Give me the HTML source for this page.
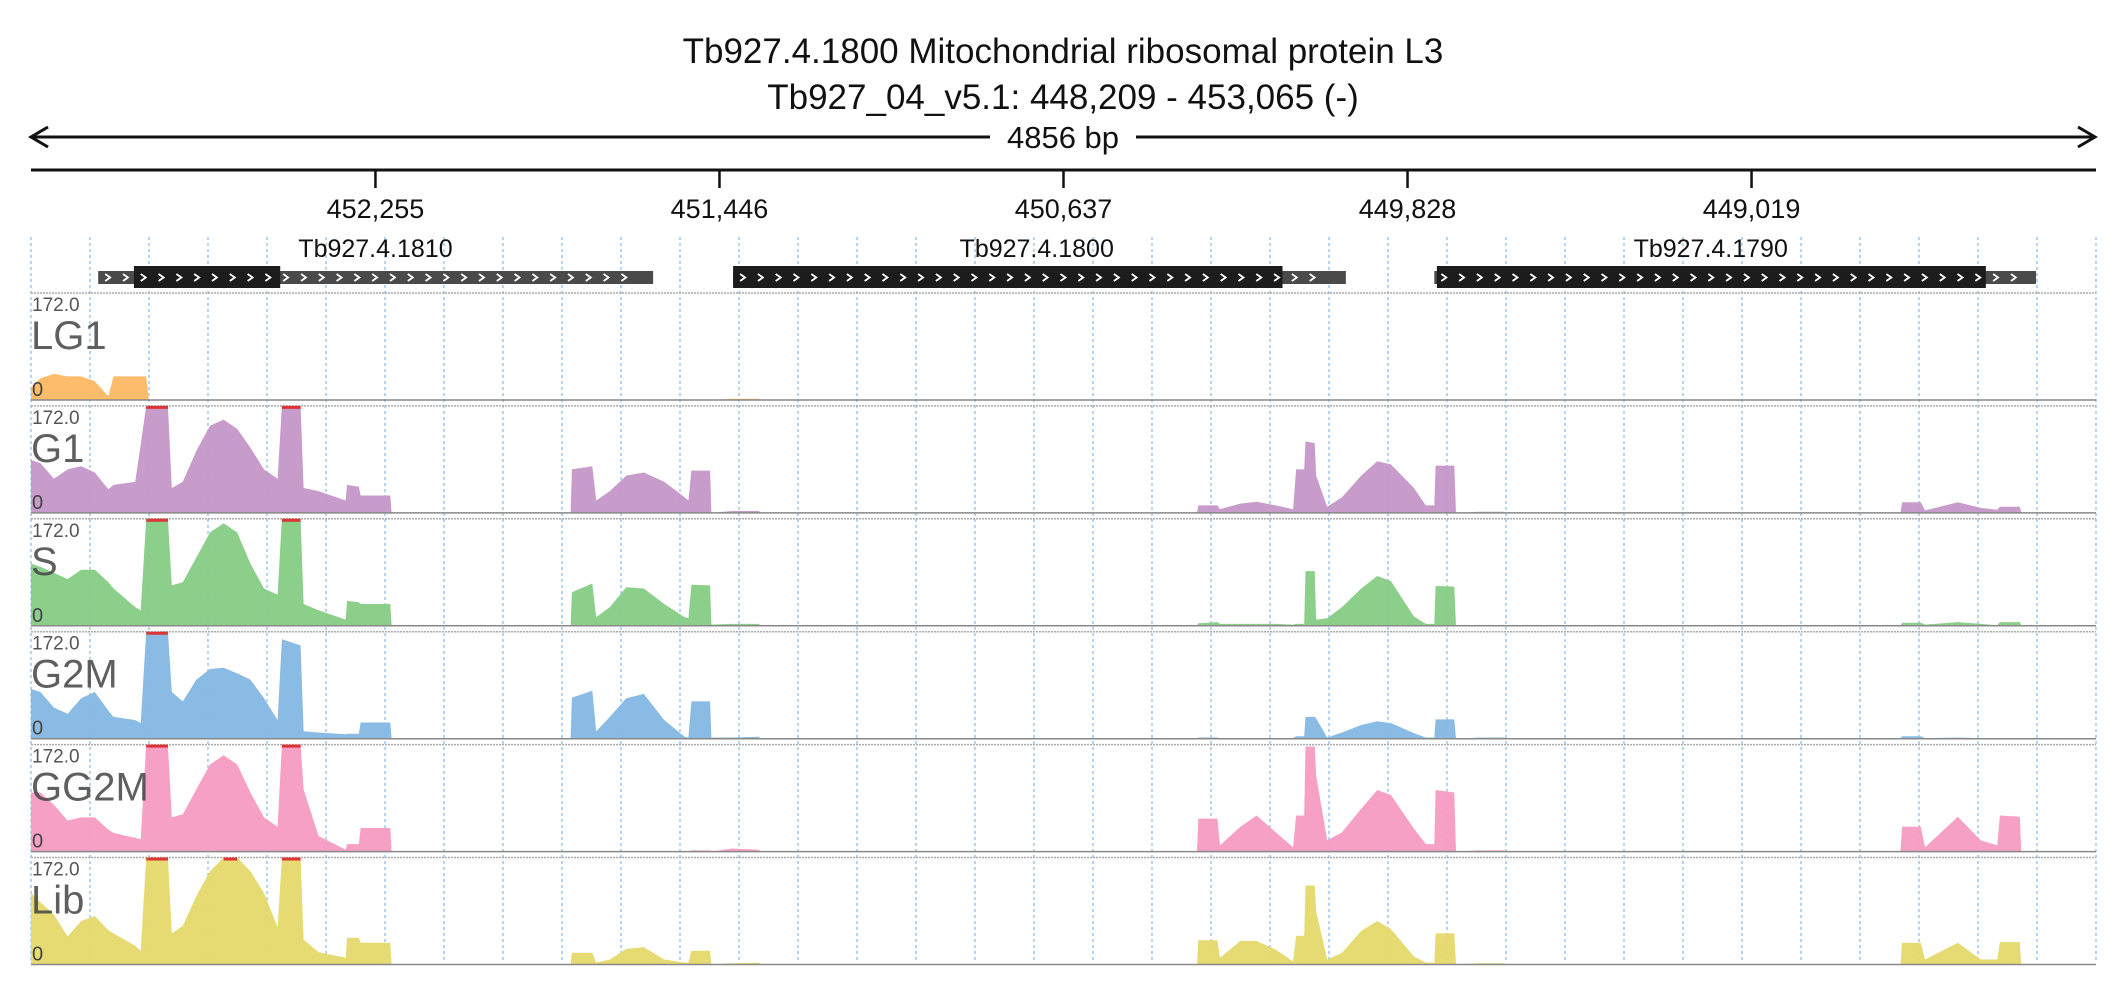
<!DOCTYPE html>
<html><head><meta charset="utf-8"><style>
body{margin:0;background:#fff;}
svg{display:block;font-family:"Liberation Sans",sans-serif;}
</style></head><body>
<svg id="c" width="2126" height="1000"></svg>
<script>
// ---- data ----
const regionStart = 453065, regionEnd = 448209, regionLen = 4856;
const tickOffsets = [810, 1619, 2428, 3237, 4046];
const tickLabels = ["452,255", "451,446", "450,637", "449,828", "449,019"];
const geneNames = ["Tb927.4.1810", "Tb927.4.1800", "Tb927.4.1790"];
const geneUtrStart = [158, 1651, 3300];
const geneUtrEnd = [1463, 3092, 4715];
const geneCdsStart = [242, 1651, 3306];
const geneCdsEnd = [586, 2943, 4597];
const geneLabelPos = [810, 2365, 3950];
const trackNames = ["LG1", "G1", "S", "G2M", "GG2M", "Lib"];
const trackColors = ["#fdb863", "#c497c8", "#85cc85", "#84b7e3", "#f59bc3", "#e4d96a"];
const maxValue = 172;
const positions = [0,22,54,86,118,150,182,194,245,258,271,277,322,331,357,389,421,453,485,516,548,580,590,634,641,676,740,743,771,775,845,848,
1269,1272,1320,1329,1361,1400,1441,1489,1537,1546,1553,1597,1600,1648,1712,1715,
2742,2745,2790,2796,2844,2882,2927,2968,2975,2994,2997,3019,3022,3048,3083,3128,3166,3198,3252,3280,3300,3303,3347,3351,3405,3465,3468,
4396,4400,4444,4454,4531,4585,4624,4630,4677,4680];
const valuesLG1 = [20,35,42,38,38,30,6,38,38,38,38,0,0,0,0,0,0,0,0,0,0,0,0,0,0,0,0,0,0,0,0,0,
0,0,0,0,0,0,0,0,0,0,0,0,0,2,2,0,
0,0,0,0,0,0,0,0,0,0,0,0,0,0,0,0,0,0,0,0,0,0,0,0,0,0,0,
0,0,0,0,0,0,0,0,0,0];
const valuesG1 = [85,80,55,70,75,65,38,45,50,110,200,200,200,40,50,100,140,150,135,105,70,55,200,200,40,35,20,45,42,28,28,0,
0,70,75,20,35,60,65,50,25,20,68,68,0,3,3,0,
0,12,12,6,15,18,12,6,70,70,115,112,60,10,25,60,83,78,40,12,12,76,76,0,2,2,0,
0,17,17,4,17,8,5,10,10,0];
const valuesS = [100,95,85,75,90,90,70,60,30,25,200,200,200,65,70,110,150,165,150,100,60,50,200,200,35,25,10,40,38,35,35,0,
0,54,68,14,30,62,60,35,14,12,66,65,2,3,3,0,
0,4,6,3,3,3,3,2,3,3,88,88,10,12,30,60,80,72,15,3,3,64,63,0,0,0,0,
0,5,5,2,6,3,1,6,6,0];
const valuesG2M = [80,75,50,40,65,75,45,35,30,25,200,200,200,75,60,95,112,114,105,95,65,30,160,150,12,10,7,8,8,26,26,0,
0,66,77,12,35,65,72,30,3,2,60,60,2,2,3,0,
0,2,2,0,0,1,1,1,4,4,35,35,33,2,10,22,28,25,9,2,2,31,31,0,2,2,0,
0,4,4,1,2,1,1,1,1,0];
const valuesGG2M = [95,95,75,50,55,55,35,30,22,20,200,200,200,55,60,100,140,155,140,95,55,40,180,200,100,25,3,12,12,38,38,0,
0,0,0,0,0,0,0,0,0,0,2,2,0,5,3,0,
0,53,53,10,40,58,31,7,58,58,169,169,123,18,31,69,99,91,37,12,12,99,95,0,2,2,0,
0,40,40,7,56,18,10,58,56,0];
const valuesLib = [115,100,80,45,70,78,55,50,30,22,200,200,200,50,62,110,150,200,185,150,115,60,200,200,40,20,11,43,43,35,35,0,
0,19,19,3,8,25,28,8,3,3,22,22,0,2,3,0,
0,39,39,11,38,38,24,5,46,46,127,127,86,8,19,54,70,57,13,3,3,50,50,0,2,2,0,
0,35,35,8,35,8,8,36,36,0];
const trackValues = [valuesLG1, valuesG1, valuesS, valuesG2M, valuesGG2M, valuesLib];

// ---- layout ----
const NS = "http://www.w3.org/2000/svg";
const svg = document.getElementById("c");
const X0 = 31, X1 = 2096;
function xScale(bp){ return X0 + bp / regionLen * (X1 - X0); }
const trackTop0 = 293, trackPitch = 112.9, trackH = 107;
function trackTop(i){ return trackTop0 + trackPitch * i; }
function yScale(i, v){ return trackTop(i) + trackH - Math.min(v, maxValue) / maxValue * trackH; }
function mk(tag, attrs, parent){
  const e = document.createElementNS(NS, tag);
  for (const k in attrs) e.setAttribute(k, attrs[k]);
  (parent || svg).appendChild(e);
  return e;
}
function txt(s, attrs, parent){ const t = mk("text", attrs, parent); t.textContent = s; return t; }

// title
let t1 = txt("Tb927.4.1800  Mitochondrial ribosomal protein L3", {x:1063, y:63, "text-anchor":"middle", "font-size":35, fill:"#111", "xml:space":"preserve"});


let t2 = txt("Tb927_04_v5.1: 448,209 - 453,065 (-)", {x:1063, y:109, "text-anchor":"middle", "font-size":35, fill:"#111"});



// span arrow
const ar = mk("g", {});


mk("line", {x1:32, y1:137, x2:2094, y2:137, stroke:"#111", "stroke-width":3}, ar);
mk("polyline", {points:"48,127 31,137 48,147", fill:"none", stroke:"#111", "stroke-width":3}, ar);
mk("polyline", {points:"2078,127 2095,137 2078,147", fill:"none", stroke:"#111", "stroke-width":3}, ar);
mk("rect", {x:990, y:120, width:146, height:34, fill:"#fff"}, ar);
let sl = txt("4856 bp", {x:1063, y:148, "text-anchor":"middle", "font-size":31, fill:"#111"}, ar);



// axis
const ax = mk("g", {});


mk("line", {x1:X0, y1:170, x2:X1, y2:170, stroke:"#111", "stroke-width":3}, ax);
tickOffsets.forEach((o, i) => {
  const x = xScale(o);
  const tk = mk("line", {x1:x, y1:170, x2:x, y2:188, stroke:"#111", "stroke-width":2.5}, ax);
  
  
  const tl = txt(tickLabels[i], {x:x, y:218, "text-anchor":"middle", "font-size":27, fill:"#111"}, ax);
  
  
});

// grid
const grid = mk("g", {});


for (let k = 0; k <= 35; k++){
  const x = xScale(k * regionLen / 35);
  mk("line", {x1:x, y1:237, x2:x, y2:963, stroke:"#9cc8ee", "stroke-width":1.5, "stroke-dasharray":"3,3"}, grid);
}

// genes
geneNames.forEach((g, i) => {
  const gg = mk("g", {});
  
  
  const u0 = xScale(geneUtrStart[i]), u1 = xScale(geneUtrEnd[i]);
  const c0 = xScale(geneCdsStart[i]), c1 = xScale(geneCdsEnd[i]);
  mk("rect", {x:u0, y:271, width:u1 - u0, height:13, fill:"#4a4a4a"}, gg);
  mk("rect", {x:c0, y:266, width:c1 - c0, height:22, fill:"#1c1c1c"}, gg);
  const n = Math.floor((u1 - u0 - 8) / 17.8);
  for (let j = 0; j < n; j++){
    const cx = u0 + 9 + j * 17.8;
    mk("polyline", {points:(cx-2)+",274 "+(cx+3)+",277.5 "+(cx-2)+",281", fill:"none", stroke:"#fff", "stroke-width":1.8}, gg);
  }
  const gl = txt(g, {x:xScale(geneLabelPos[i]), y:257, "text-anchor":"middle", "font-size":25, fill:"#111"}, gg);
  
  
});

// tracks
trackNames.forEach((name, i) => {
  const g = mk("g", {});
  
  
  const top = trackTop(i), base = top + trackH;
  mk("line", {x1:X0, y1:top, x2:X1, y2:top, stroke:"#aaa", "stroke-width":1.5, "stroke-dasharray":"2,1"}, g);
  const vals = trackValues[i];
  let pts = xScale(positions[0]) + "," + base + " ";
  positions.forEach((p, j) => { pts += xScale(p).toFixed(1) + "," + yScale(i, vals[j]).toFixed(1) + " "; });
  pts += xScale(positions[positions.length - 1]) + "," + base;
  const area = mk("polygon", {points:pts, fill:trackColors[i], opacity:0.95}, g);
  
  
  for (let j = 0; j < positions.length - 1; j++){
    if (vals[j] >= maxValue && vals[j+1] >= maxValue){
      const cl = mk("line", {x1:xScale(positions[j]), y1:top + 1.5, x2:xScale(positions[j+1]), y2:top + 1.5, stroke:"#d33", "stroke-width":3}, g);
      
      
    }
  }
  mk("line", {x1:X0, y1:base, x2:X1, y2:base, stroke:"#888", "stroke-width":1.5}, g);
  const mx = txt("172.0", {x:32, y:top + 18, "font-size":19, fill:"#555"}, g);
  
  
  const nm = txt(name, {x:31, y:top + 56, "font-size":40, fill:"#444", opacity:0.85}, g);
  
  
  const z = txt("0", {x:32, y:base - 4, "font-size":20, fill:"#444"}, g);
  
  
});
</script>
</body></html>
